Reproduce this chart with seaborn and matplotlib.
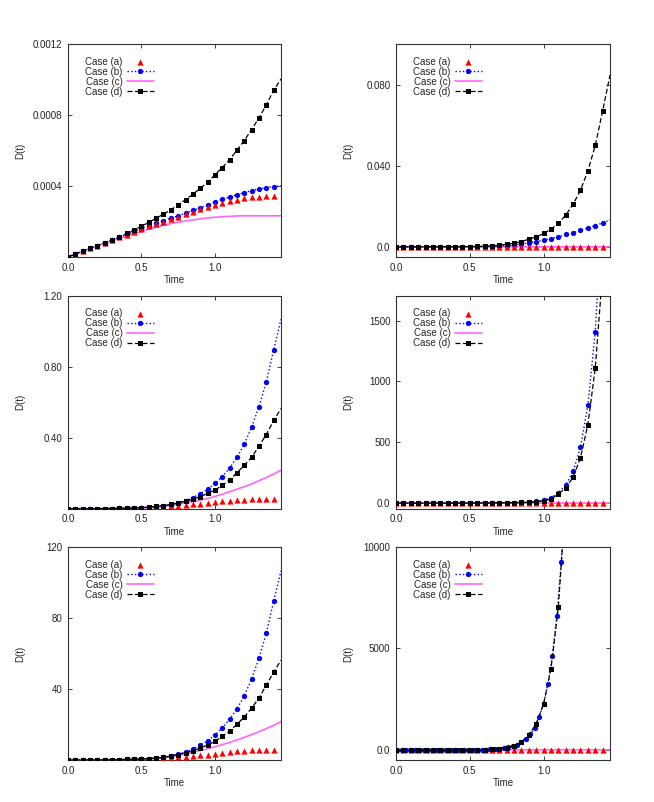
import matplotlib
matplotlib.use("Agg")
import matplotlib.pyplot as plt
import numpy as np
import seaborn as sns

# time grid of the output (every 0.05), and the finer grid used for case (b) in the last panel
time = np.round(np.arange(0.0, 1.4501, 0.05), 2)
time_fine = np.round(np.arange(0.01, 1.1501, 0.03), 2)

# panel 1 (units of 1e-4)
p1_a = [0, 0.17, 0.33, 0.49, 0.64, 0.80, 0.95, 1.10, 1.26, 1.41, 1.57, 1.73, 1.86, 1.99, 2.12,
        2.25, 2.40, 2.54, 2.68, 2.80, 2.92, 3.04, 3.14, 3.23, 3.30, 3.36, 3.40, 3.43, 3.45, 3.46]
p1_b = [0, 0.17, 0.33, 0.49, 0.64, 0.80, 0.96, 1.11, 1.27, 1.43, 1.60, 1.76, 1.90, 2.04, 2.18,
        2.32, 2.47, 2.62, 2.77, 2.93, 3.09, 3.24, 3.38, 3.51, 3.63, 3.74, 3.83, 3.91, 3.97, 4.01]
p1_c = [0, 0.17, 0.33, 0.48, 0.63, 0.78, 0.92, 1.06, 1.19, 1.31, 1.45, 1.57, 1.69, 1.79, 1.88,
        1.96, 2.03, 2.09, 2.15, 2.20, 2.24, 2.27, 2.29, 2.31, 2.32, 2.32, 2.32, 2.32, 2.32, 2.32]
p1_d = [0, 0.17, 0.33, 0.49, 0.64, 0.81, 0.98, 1.14, 1.33, 1.52, 1.73, 1.95, 2.18, 2.42, 2.66,
        2.94, 3.23, 3.54, 3.86, 4.22, 4.63, 5.04, 5.49, 6.02, 6.56, 7.18, 7.84, 8.57, 9.39, 10.03]

# panel 2 (units of 1e-3)
p2_a = [0, 0, 0, 0, 0, 0, 0, 0, 0.01, 0.01, 0.01, 0.02, 0.02, 0.03, 0.03,
        0.04, 0.05, 0.05, 0.06, 0.07, 0.07, 0.08, 0.08, 0.09, 0.09, 0.10, 0.10, 0.10, 0.10, 0.10]
p2_b = [0, 0, 0, 0, 0.01, 0.01, 0.02, 0.03, 0.04, 0.06, 0.08, 0.10, 0.15, 0.25, 0.40,
        0.60, 1.0, 1.5, 2.0, 2.6, 3.3, 4.1, 4.9, 6.1, 6.9, 8.2, 9.3, 10.5, 11.8, 13.3]
p2_c = [0, 0, 0, 0, 0, 0, 0, 0, 0, 0.01, 0.01, 0.01, 0.01, 0.02, 0.02,
        0.02, 0.03, 0.03, 0.03, 0.04, 0.04, 0.04, 0.04, 0.05, 0.05, 0.05, 0.05, 0.05, 0.05, 0.05]
p2_d = [0, 0, 0, 0.01, 0.02, 0.03, 0.04, 0.06, 0.08, 0.11, 0.15, 0.20, 0.30, 0.45, 0.80,
        1.3, 1.8, 2.6, 3.8, 4.9, 6.6, 8.7, 11.6, 15.6, 21.0, 27.9, 37.4, 50.0, 66.9, 84.7]

# panel 3
p3_a = [0, 0, 0, 0, 0, 0.001, 0.001, 0.002, 0.003, 0.003, 0.004, 0.006, 0.008, 0.010, 0.013,
        0.017, 0.021, 0.024, 0.028, 0.032, 0.036, 0.041, 0.045, 0.049, 0.050, 0.0525, 0.054, 0.055, 0.056, 0.056]
p3_b = [0, 0, 0, 0, 0, 0.001, 0.001, 0.002, 0.003, 0.004, 0.005, 0.0075, 0.011, 0.015, 0.0225,
        0.034, 0.045, 0.062, 0.084, 0.109, 0.1425, 0.180, 0.229, 0.289, 0.364, 0.459, 0.574, 0.716, 0.894, 1.067]
p3_c = [0, 0, 0, 0, 0, 0.001, 0.001, 0.002, 0.003, 0.004, 0.005, 0.007, 0.009, 0.013, 0.019,
        0.025, 0.032, 0.040, 0.049, 0.058, 0.069, 0.082, 0.096, 0.110, 0.124, 0.140, 0.1575, 0.176, 0.195, 0.2175]
p3_d = [0, 0, 0, 0, 0, 0.001, 0.001, 0.002, 0.003, 0.004, 0.006, 0.009, 0.013, 0.017, 0.024,
        0.032, 0.041, 0.0525, 0.0675, 0.086, 0.105, 0.131, 0.163, 0.2025, 0.244, 0.289, 0.353, 0.418, 0.497, 0.564]

# panel 4
p4_a = [0, 0, 0, 0, 0, 0, 0, 0, 0, 0, 0.01, 0.01, 0.01, 0.02, 0.02,
        0.02, 0.03, 0.03, 0.03, 0.04, 0.04, 0.04, 0.05, 0.05, 0.05, 0.05, 0.05, 0.06, 0.06, 0.06]
p4_b = [0, 0, 0, 0, 0, 0, 0, 0, 0, 0, 0.5, 1, 1, 2, 2,
        3, 4, 5, 7, 14, 25, 44, 85, 148, 260, 459, 806, 1410, 2470, 4300]
p4_c = [0, 0, 0, 0, 0, 0, 0, 0, 0, 0, 0.01, 0.01, 0.01, 0.02, 0.02,
        0.03, 0.04, 0.05, 0.06, 0.07, 0.08, 0.09, 0.10, 0.11, 0.12, 0.13, 0.14, 0.16, 0.18, 0.20]
p4_d = [0, 0, 0, 0, 0, 0, 0, 0, 0, 0, 0.5, 1, 1, 2, 2,
        3, 4, 5, 6, 12, 19, 33, 74, 126, 213, 372, 645, 1109, 1900, 3300]

# panel 5
p5_a = [0, 0, 0, 0, 0, 0.1, 0.1, 0.2, 0.3, 0.3, 0.4, 0.6, 0.8, 1.0, 1.1,
        1.5, 1.7, 2.25, 2.6, 3.0, 3.6, 4.1, 4.5, 5.1, 5.2, 5.4, 5.5, 5.6, 5.6, 5.6]
p5_b = [0, 0, 0, 0, 0, 0.1, 0.1, 0.2, 0.3, 0.4, 0.5, 0.75, 1.1, 1.5, 2.25,
        3.4, 4.5, 6.2, 8.25, 10.7, 14.1, 18.0, 22.9, 28.7, 36.2, 45.6, 57.4, 71.4, 89.4, 106.5]
p5_c = [0, 0, 0, 0, 0, 0.1, 0.1, 0.2, 0.3, 0.4, 0.5, 0.7, 0.9, 1.3, 1.9,
        2.6, 3.4, 4.3, 5.25, 6.3, 7.5, 8.7, 9.9, 11.3, 12.75, 14.3, 15.9, 17.7, 19.5, 21.6]
p5_d = [0, 0, 0, 0, 0, 0.1, 0.1, 0.2, 0.3, 0.4, 0.6, 0.75, 1.1, 1.5, 2.25,
        3.0, 4.1, 5.1, 6.75, 8.4, 10.5, 13.3, 16.3, 20.1, 24.2, 29.25, 34.9, 42.2, 49.5, 56.25]

# panel 6
p6_a = [0, 0, 0, 0, 0, 0, 0, 0, 0, 0, 0.1, 0.1, 0.1, 0.2, 0.2,
        0.3, 0.3, 0.4, 0.4, 0.5, 0.5, 0.5, 0.6, 0.6, 0.6, 0.6, 0.6, 0.6, 0.6, 0.6]
p6_b = [0, 0, 0, 0, 0, 0, 0, 0, 0, 0, 0, 0.1, 0.2, 0.5, 1.0,
        1.5, 2.5, 4, 6.5, 10, 16, 24, 36, 54, 80, 120, 175, 255, 370, 530,
        760, 1098, 1639, 2262, 3262, 4639, 6590, 9262, 13100]
p6_c = [0, 0, 0, 0, 0, 0, 0, 0, 0, 0, 0.1, 0.1, 0.1, 0.2, 0.2,
        0.3, 0.4, 0.5, 0.6, 0.7, 0.8, 0.9, 1.0, 1.1, 1.2, 1.3, 1.4, 1.6, 1.8, 2.0]
p6_d = [0, 0, 0, 0, 0, 0, 0, 0.1, 0.2, 1, 2, 4, 9, 20, 49,
        115, 213, 393, 721, 1279, 2262, 4000, 7049, 12400]

panels = [
    dict(a=p1_a, b=p1_b, c=p1_c, d=p1_d, scale=1e-4, ylim=(0, 0.0012),
         yticks=[0.0004, 0.0008, 0.0012], ylabels=["0.0004", "0.0008", "0.0012"]),
    dict(a=p2_a, b=p2_b, c=p2_c, d=p2_d, scale=1e-3, ylim=(-0.005, 0.1),
         yticks=[0.0, 0.04, 0.08], ylabels=["0.0", "0.040", "0.080"]),
    dict(a=p3_a, b=p3_b, c=p3_c, d=p3_d, scale=1, ylim=(0, 1.2),
         yticks=[0.4, 0.8, 1.2], ylabels=["0.40", "0.80", "1.20"]),
    dict(a=p4_a, b=p4_b, c=p4_c, d=p4_d, scale=1, ylim=(-46, 1705),
         yticks=[0, 500, 1000, 1500], ylabels=["0.0", "500", "1000", "1500"]),
    dict(a=p5_a, b=p5_b, c=p5_c, d=p5_d, scale=1, ylim=(0, 120),
         yticks=[40, 80, 120], ylabels=["40", "80", "120"]),
    dict(a=p6_a, b=p6_b, c=p6_c, d=p6_d, scale=1, ylim=(-500, 10000),
         yticks=[0, 5000, 10000], ylabels=["0.0", "5000", "10000"], b_time=time_fine),
]

sns.set_style("ticks", {"xtick.direction": "in", "ytick.direction": "in"})
plt.rcParams["font.family"] = ["Liberation Sans", "DejaVu Sans"]
FS = 7

W, H = 654, 802
col_left = [68, 396]
col_width = [213, 214]
row_bottom = [257, 508.7, 760]
ax_h = 213

fig = plt.figure(figsize=(W / 100, H / 100), dpi=100)

for i, p in enumerate(panels):
    row, col = divmod(i, 2)
    ax = fig.add_axes([col_left[col] / W, 1 - row_bottom[row] / H, col_width[col] / W, ax_h / H])
    s = p["scale"]
    ya = np.array(p["a"]) * s
    yb = np.array(p["b"]) * s
    yc = np.array(p["c"]) * s
    yd = np.array(p["d"]) * s
    tb = p.get("b_time", time)
    td = time[:len(yd)]

    sns.scatterplot(x=time[:-1], y=ya[:-1], ax=ax, marker="^", color="#ff0000", s=20,
                    linewidth=0, label="Case (a)", zorder=4)
    nb = len(tb) - 1 if tb is time else len(tb)
    sns.lineplot(x=tb, y=yb, ax=ax, color="#0000ff", linestyle=":", linewidth=1.0,
                 marker="o", markersize=3.8, markeredgewidth=0, markevery=list(range(nb)),
                 label="Case (b)", zorder=3)
    sns.lineplot(x=time, y=yc, ax=ax, color="#ff66ff", linestyle="-", linewidth=1.2,
                 label="Case (c)", zorder=2)
    nd = len(td) - 1 if len(td) == len(time) else len(td)
    sns.lineplot(x=td, y=yd, ax=ax, color="black", linestyle=(0, (4, 2)), linewidth=0.9,
                 marker="s", markersize=3.6, markeredgewidth=0, markevery=list(range(nd)),
                 label="Case (d)", zorder=5)

    ax.set_xlim(0, 1.45)
    ax.set_ylim(*p["ylim"])
    ax.set_xticks([0.0, 0.5, 1.0])
    ax.set_xticklabels(["0.0", "0.5", "1.0"])
    ax.set_yticks(p["yticks"])
    ax.set_yticklabels(p["ylabels"])
    ax.tick_params(axis="both", which="both", direction="in", length=3, width=0.6,
                   labelsize=FS, pad=4, top=True, right=True, colors="#222222")
    for sp in ax.spines.values():
        sp.set_visible(True)
        sp.set_linewidth(0.8)
        sp.set_color("#333333")

    ax.set_xlabel("Time", fontsize=FS)
    ax.set_ylabel("D(t)", fontsize=FS)
    ax.yaxis.set_label_coords(-0.2, 0.5)
    ax.xaxis.set_label_coords(0.5, -0.085)

    ax.legend(loc="upper left", bbox_to_anchor=(0.08, 0.94), frameon=False, markerfirst=False,
              handlelength=2.7, handletextpad=0.5, labelspacing=0.0, borderpad=0,
              borderaxespad=0, fontsize=FS)

fig.savefig("out.png", dpi=100)
plt.close(fig)
